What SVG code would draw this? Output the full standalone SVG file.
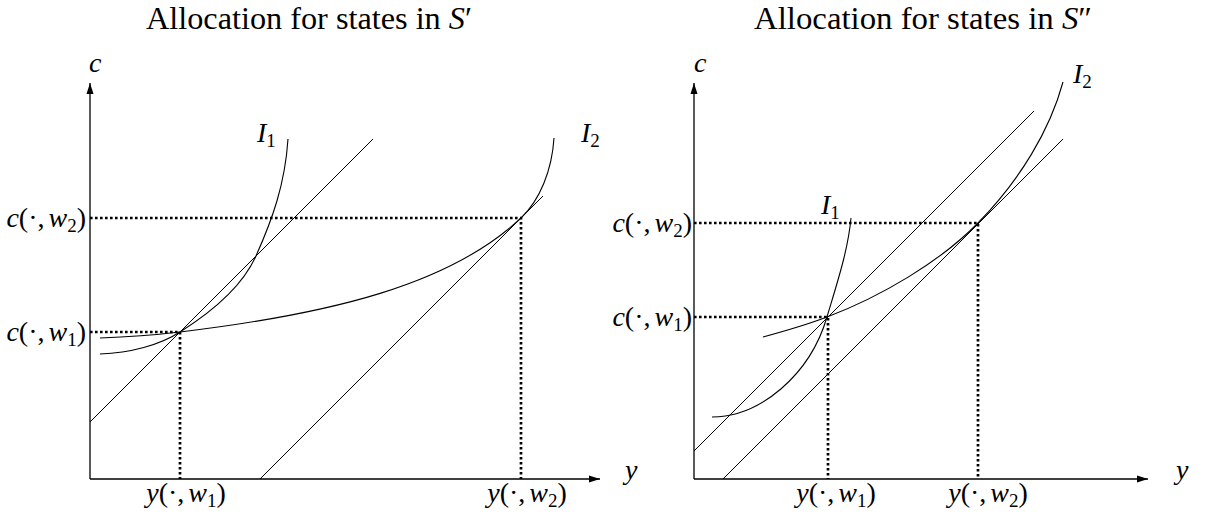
<svg xmlns="http://www.w3.org/2000/svg" width="1215" height="522" viewBox="0 0 1215 522">
<style>
text{font-family:"Liberation Serif","DejaVu Serif",serif;fill:#000}
.t{font-size:31px}
.l{font-size:28px}
.i{font-style:italic}
.s{font-size:19px}
.ax{stroke:#000;stroke-width:1.3;fill:none}
.ln{stroke:#000;stroke-width:1;fill:none}
.cv{stroke:#000;stroke-width:1.1;fill:none}
.dt{stroke:#000;stroke-width:2.7;stroke-dasharray:2.6 2.4;fill:none}
</style>
<defs>
<marker id="arr" markerUnits="userSpaceOnUse" markerWidth="12" markerHeight="8" refX="11" refY="4" orient="auto">
<path d="M0,0.5 L11,4 L0,7.5 Z" fill="#000"/>
</marker>
</defs>
<rect width="1215" height="522" fill="#fff"/>

<g id="left-panel">
<text class="t" x="309" y="29" text-anchor="middle" textLength="326" lengthAdjust="spacingAndGlyphs">Allocation for states in <tspan class="i">S</tspan>′</text>
<g id="left-axes">
<line class="ax" x1="90" y1="479" x2="90" y2="83" marker-end="url(#arr)"/>
<line class="ax" x1="90" y1="479" x2="600" y2="479" marker-end="url(#arr)"/>
<text class="l i" x="89" y="72">c</text>
<text class="l i" x="625" y="479">y</text>
</g>
<g id="left-guides">
<polyline class="dt" points="90,218 521,218 521,479"/>
<polyline class="dt" points="90,332 180,332 180,479"/>
</g>
<g id="left-lines">
<line class="ln" x1="90" y1="422" x2="373" y2="139"/>
<line class="ln" x1="260" y1="479" x2="543" y2="196"/>
</g>
<g id="left-I1">
<path class="cv" d="M100,354 C130,353 160,345 180,332 C215,310 243,285 256,256 C272,220 285,185 288,139"/>
<text class="l i" x="257" y="142">I<tspan class="s" font-style="normal" dy="5">1</tspan></text>
</g>
<g id="left-I2">
<path class="cv" stroke-width="0.9" d="M100,338 C130,337 155,335 180,332 C330,314 450,285 521,218 C540,200 552,170 554,138"/>
<text class="l i" x="581" y="142">I<tspan class="s" font-style="normal" dy="5">2</tspan></text>
</g>
<g id="left-labels">
<text class="l" x="86" y="227" text-anchor="end"><tspan class="i">c</tspan>(·,<tspan dx="4" class="i">w</tspan><tspan class="s" dy="5">2</tspan><tspan dy="-5">)</tspan></text>
<text class="l" x="86" y="341" text-anchor="end"><tspan class="i">c</tspan>(·,<tspan dx="4" class="i">w</tspan><tspan class="s" dy="5">1</tspan><tspan dy="-5">)</tspan></text>
<text class="l" x="186" y="502" text-anchor="middle"><tspan class="i">y</tspan>(·,<tspan dx="4" class="i">w</tspan><tspan class="s" dy="5">1</tspan><tspan dy="-5">)</tspan></text>
<text class="l" x="527" y="502" text-anchor="middle"><tspan class="i">y</tspan>(·,<tspan dx="4" class="i">w</tspan><tspan class="s" dy="5">2</tspan><tspan dy="-5">)</tspan></text>
</g>
</g>

<g id="right-panel">
<text class="t" x="923" y="29" text-anchor="middle" textLength="338" lengthAdjust="spacingAndGlyphs">Allocation for states in <tspan class="i">S</tspan>″</text>
<g id="right-axes">
<line class="ax" x1="694" y1="479" x2="694" y2="83" marker-end="url(#arr)"/>
<line class="ax" x1="694" y1="479" x2="1148" y2="479" marker-end="url(#arr)"/>
<text class="l i" x="694" y="72">c</text>
<text class="l i" x="1176" y="479">y</text>
</g>
<g id="right-guides">
<polyline class="dt" points="694,223 978,223 978,479"/>
<polyline class="dt" points="694,317 828,317 828,479"/>
</g>
<g id="right-lines">
<line class="ln" x1="694" y1="451" x2="1034" y2="111"/>
<line class="ln" x1="723" y1="479" x2="1063" y2="139"/>
</g>
<g id="right-I1">
<path class="cv" stroke-width="1.3" d="M712,417 C760,417 810,375 827,317 C838,280 848,250 851,218"/>
<text class="l i" x="821" y="214">I<tspan class="s" font-style="normal" dy="5">1</tspan></text>
</g>
<g id="right-I2">
<path class="cv" d="M763,337 C785,331 806,325 827,317 C880,297 940,262 978,223 C1020,180 1050,130 1063,82"/>
<text class="l i" x="1073" y="83">I<tspan class="s" font-style="normal" dy="5">2</tspan></text>
</g>
<g id="right-labels">
<text class="l" x="692" y="232" text-anchor="end"><tspan class="i">c</tspan>(·,<tspan dx="4" class="i">w</tspan><tspan class="s" dy="5">2</tspan><tspan dy="-5">)</tspan></text>
<text class="l" x="692" y="326" text-anchor="end"><tspan class="i">c</tspan>(·,<tspan dx="4" class="i">w</tspan><tspan class="s" dy="5">1</tspan><tspan dy="-5">)</tspan></text>
<text class="l" x="836" y="502" text-anchor="middle"><tspan class="i">y</tspan>(·,<tspan dx="4" class="i">w</tspan><tspan class="s" dy="5">1</tspan><tspan dy="-5">)</tspan></text>
<text class="l" x="988" y="502" text-anchor="middle"><tspan class="i">y</tspan>(·,<tspan dx="4" class="i">w</tspan><tspan class="s" dy="5">2</tspan><tspan dy="-5">)</tspan></text>
</g>
</g>
</svg>
